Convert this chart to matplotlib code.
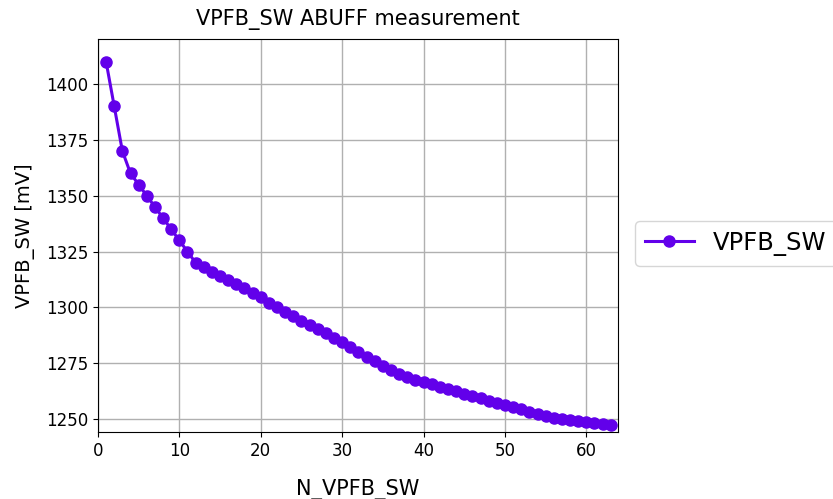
import matplotlib
matplotlib.use("Agg")
import matplotlib.pyplot as plt

n_vpfb_sw = list(range(1, 64))
vpfb_sw_mv = [
    1410, 1390, 1370, 1360, 1355, 1350, 1345, 1340, 1335, 1330,
    1325, 1320, 1318, 1316, 1314, 1312.3, 1310.5, 1308.5, 1306.5, 1304.5,
    1302, 1300, 1297.8, 1296, 1294, 1292.3, 1290.3, 1288.4, 1286.5, 1284.4,
    1282.2, 1280.2, 1278, 1276, 1274, 1272, 1270.3, 1269, 1267.7, 1266.6,
    1265.6, 1264.5, 1263.5, 1262.4, 1261.4, 1260.4, 1259.4, 1258.3, 1257.4, 1256.4,
    1255.4, 1254.4, 1253.3, 1252.3, 1251.4, 1250.7, 1250.1, 1249.6, 1249.2, 1248.8,
    1248.4, 1247.9, 1247.5,
]

fig = plt.figure(figsize=(8.33, 4.99), dpi=100)
ax = fig.add_axes([0.1176, 0.134, 0.6244, 0.788])

ax.plot(n_vpfb_sw, vpfb_sw_mv, color="#6200EA", linewidth=2.2,
        marker="o", markersize=8, label="VPFB_SW")

ax.set_xlim(0, 63.9)
ax.set_ylim(1244.2, 1420.2)
ax.set_xticks([0, 10, 20, 30, 40, 50, 60])
ax.set_yticks([1250, 1275, 1300, 1325, 1350, 1375, 1400])
ax.tick_params(labelsize=12)
ax.grid(True, color="#b0b0b0", linewidth=1)

ax.set_title("VPFB_SW ABUFF measurement", fontsize=15, pad=10)
ax.set_xlabel("N_VPFB_SW", fontsize=15, labelpad=14)
ax.set_ylabel("VPFB_SW [mV]", fontsize=14, labelpad=8)

ax.legend(loc="center left", bbox_to_anchor=(1.01, 0.48), fontsize=17.5,
          borderaxespad=0.5)

fig.savefig("out.png", dpi=100)
